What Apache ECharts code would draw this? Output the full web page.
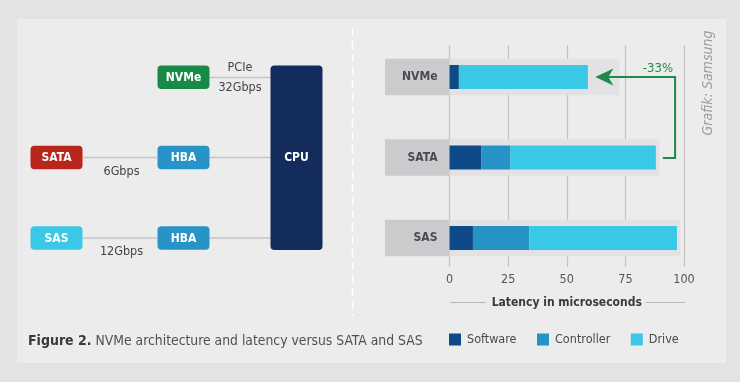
<!DOCTYPE html>
<html>
<head>
<meta charset="utf-8">
<script src="https://cdn.jsdelivr.net/npm/echarts@6/dist/echarts.min.js"></script>
<style>
html,body{margin:0;padding:0;background:#e3e3e3;}
#chart{width:740px;height:382px;}
</style>
</head>
<body>
<div id="chart"></div>
<script>
// ---- data ----
const categories = ['NVMe', 'SATA', 'SAS'];
const software = [4, 13.5, 10];
const controller = [0, 12.5, 24];
const drive = [55, 62, 63];
const bandEnd = [72.5, 89.5, 98.5];
const tickValues = [0, 25, 50, 75, 100];
const seriesNames = ['Software', 'Controller', 'Drive'];
const reductionLabel = '-33%';
const axisTitle = 'Latency in microseconds';
const captionBold = 'Figure 2.';
const captionText = ' NVMe architecture and latency versus SATA and SAS';
const creditText = 'Grafik: Samsung';
// diagram labels
const diagramBoxes = ['NVMe', 'SATA', 'HBA', 'SAS', 'HBA', 'CPU'];
const linkLabels = ['PCIe', '32Gbps', '6Gbps', '12Gbps'];

const FONT = "'DejaVu Sans Condensed','Liberation Sans Narrow',sans-serif";
const C_SOFT = '#0d4a87', C_CTRL = '#2693c6', C_DRIVE = '#39c9e7';
const GREEN = '#1d8b47';

const chart = echarts.init(document.getElementById('chart'), null, {renderer: 'canvas'});

const GRID_LEFT = 449.5, GRID_RIGHT = 56;

function box(x, y, w, h, color, text) {
  return {
    type: 'group', children: [
      {type: 'rect', shape: {x: x, y: y, width: w, height: h, r: 4}, style: {fill: color}},
      {type: 'text', x: x + w / 2, y: y + h / 2 + 0.5, style: {text: text, fill: '#fff', font: 'bold 12px ' + FONT, textAlign: 'center', textVerticalAlign: 'middle'}}
    ]
  };
}
function hline(x1, x2, y) {
  return {type: 'line', shape: {x1: x1, y1: y, x2: x2, y2: y}, style: {stroke: '#c6c6c8', lineWidth: 1.5}};
}
function label(x, y, text) {
  return {type: 'text', x: x, y: y, style: {text: text, fill: '#444', font: '12.5px ' + FONT, textAlign: 'center', textVerticalAlign: 'middle'}};
}

const baseGraphic = [
  {type: 'rect', shape: {x: 17, y: 19, width: 709, height: 344}, style: {fill: '#ececec'}, z: -10},
  {type: 'line', shape: {x1: 352.5, y1: 28, x2: 352.5, y2: 316}, style: {stroke: '#ffffff', lineWidth: 1.5, lineDash: [8, 5]}},
  // diagram
  hline(209, 271, 77.5),
  hline(83, 157, 157.5), hline(209, 271, 157.5),
  hline(83, 157, 238), hline(209, 271, 238),
  box(157.5, 65.5, 52, 23.5, '#178a48', diagramBoxes[0]),
  box(30.5, 145.7, 52, 23.5, '#b7251b', diagramBoxes[1]),
  box(157.5, 145.7, 52, 23.5, '#2793c6', diagramBoxes[2]),
  box(30.5, 226.3, 52, 23.5, '#3bc8e6', diagramBoxes[3]),
  box(157.5, 226.3, 52, 23.5, '#2793c6', diagramBoxes[4]),
  box(270.5, 65.5, 52, 184.5, '#142c5c', diagramBoxes[5]),
  label(240, 68, linkLabels[0]),
  label(240, 88, linkLabels[1]),
  label(121.5, 172, linkLabels[2]),
  label(121.5, 252, linkLabels[3]),
  // axis title side lines
  {type: 'line', shape: {x1: 450, y1: 302.5, x2: 486, y2: 302.5}, style: {stroke: '#b5b5b5', lineWidth: 1}},
  {type: 'line', shape: {x1: 646, y1: 302.5, x2: 685, y2: 302.5}, style: {stroke: '#b5b5b5', lineWidth: 1}},
  // caption
  {type: 'text', x: 28, y: 341, style: {
    text: '{b|' + captionBold + '}{n|' + captionText + '}',
    textVerticalAlign: 'middle',
    rich: {
      b: {font: 'bold 14px ' + FONT, fill: '#3a3a3a'},
      n: {font: '13.8px ' + FONT, fill: '#505050'}
    }
  }},
  // credit
  {type: 'text', x: 708, y: 83, rotation: Math.PI / 2, style: {text: creditText, fill: '#9c9c9c', font: 'italic 14px ' + FONT, textAlign: 'center', textVerticalAlign: 'middle'}}
];

const bandData = categories.map((c, i) => [bandEnd[i], i]);

const option = {
  animation: false,
  backgroundColor: '#e3e3e3',
  textStyle: {fontFamily: FONT},
  legend: {
    data: seriesNames,
    left: 444, top: 328,
    icon: 'rect', itemWidth: 12, itemHeight: 12, itemGap: 20.5,
    textStyle: {fontFamily: FONT, fontSize: 12.5, color: '#4a4a4a', padding: [0, 0, 0, 1]},
    selectedMode: false
  },
  grid: [
    {left: GRID_LEFT, right: GRID_RIGHT, top: 36.75, bottom: 103.75},
    {left: GRID_LEFT, right: GRID_RIGHT, top: 45, bottom: 115}
  ],
  xAxis: [
    {gridIndex: 0, type: 'value', min: 0, max: 100, show: false},
    {gridIndex: 1, type: 'value', min: 0, max: 100, interval: 25,
      axisLine: {show: false}, axisTick: {show: false},
      splitLine: {show: true, lineStyle: {color: '#c4c4c4', width: 1.2}},
      axisLabel: {margin: 6, fontFamily: FONT, fontSize: 12.5, color: '#555'},
      name: axisTitle, nameLocation: 'middle', nameGap: 30,
      nameTextStyle: {fontFamily: FONT, fontSize: 12, fontWeight: 'bold', color: '#3a3a3a'}
    }
  ],
  yAxis: [
    {gridIndex: 0, type: 'category', data: categories, inverse: true,
      axisLine: {show: false}, axisTick: {show: false}, splitLine: {show: false},
      axisLabel: {margin: 12, fontFamily: FONT, fontSize: 12, fontWeight: 'bold', color: '#4a4a52'}, z: 5},
    {gridIndex: 1, type: 'value', show: false}
  ],
  series: [
    {
      type: 'custom', name: 'band', xAxisIndex: 0, yAxisIndex: 0, z: 1, silent: true,
      data: bandData,
      encode: {x: 0, y: 1},
      renderItem: function (params, api) {
        const idx = api.value(1);
        const p0 = api.coord([0, idx]);
        const p1 = api.coord([api.value(0), idx]);
        const h = 36.5;
        return {type: 'group', children: [
          {type: 'rect', shape: {x: p0[0] - 64.5, y: p0[1] - h / 2, width: 64.5, height: h}, style: {fill: '#cbcbce'}},
          {type: 'rect', shape: {x: p0[0], y: p0[1] - h / 2, width: p1[0] - p0[0], height: h}, style: {fill: '#e2e2e4'}}
        ]};
      }
    },
    {type: 'bar', name: seriesNames[0], stack: 'lat', data: software, barWidth: 24, itemStyle: {color: C_SOFT}, z: 3},
    {type: 'bar', name: seriesNames[1], stack: 'lat', data: controller, barWidth: 24, itemStyle: {color: C_CTRL}, z: 3},
    {type: 'bar', name: seriesNames[2], stack: 'lat', data: drive, barWidth: 24, itemStyle: {color: C_DRIVE}, z: 3},
    {type: 'line', xAxisIndex: 1, yAxisIndex: 1, data: [], silent: true}
  ],
  graphic: baseGraphic
};

chart.setOption(option);

// arrow annotation linked to data
const total = i => software[i] + controller[i] + drive[i];
const pSata = chart.convertToPixel({xAxisIndex: 0, yAxisIndex: 0}, [total(1), categories[1]]);
const pNvme = chart.convertToPixel({xAxisIndex: 0, yAxisIndex: 0}, [total(0), categories[0]]);
const xc = chart.convertToPixel({xAxisIndex: 0, yAxisIndex: 0}, [96.2, categories[0]])[0];
const sy = pSata[1] + 0.5, ny = pNvme[1];
const tipX = pNvme[0] + 7.5;
const arrow = [
  {type: 'polyline', shape: {points: [[pSata[0] + 7, sy], [xc, sy], [xc, ny], [tipX + 12, ny]]}, style: {stroke: GREEN, lineWidth: 2, fill: null}, z: 10},
  {type: 'polygon', shape: {points: [[tipX, ny], [tipX + 18, ny - 8.5], [tipX + 13, ny], [tipX + 18, ny + 8.5]]}, style: {fill: GREEN}, z: 10},
  {type: 'text', x: xc - 2, y: ny - 8, style: {text: reductionLabel, fill: GREEN, font: '13px ' + FONT, textAlign: 'right', textVerticalAlign: 'middle'}, z: 10}
];
chart.setOption({graphic: baseGraphic.concat(arrow)});
</script>
</body>
</html>
